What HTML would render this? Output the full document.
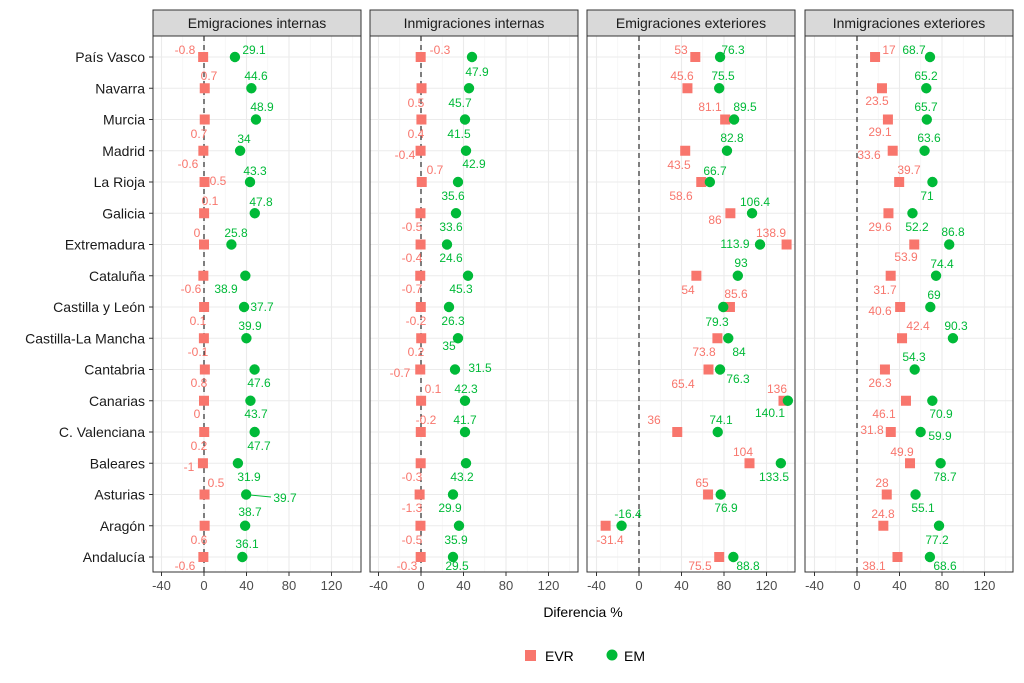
<!DOCTYPE html>
<html><head><meta charset="utf-8"><style>
html,body{margin:0;padding:0;background:#fff}
svg{display:block;font-family:"Liberation Sans",sans-serif}
</style></head><body>
<svg id="s" width="1024" height="683" xmlns="http://www.w3.org/2000/svg"></svg>
<script>
const S=document.getElementById('s');let h='';
const R='#F8766D',G='#00BA38',k=1.0625;
const rows=['País Vasco','Navarra','Murcia','Madrid','La Rioja','Galicia','Extremadura','Cataluña','Castilla y León','Castilla-La Mancha','Cantabria','Canarias','C. Valenciana','Baleares','Asturias','Aragón','Andalucía'];
const ry=i=>57+i*31.25;
const panels=[
{t:'Emigraciones internas',L:153,x0:204,
evr:[-0.8,0.7,0.7,-0.6,0.5,0.1,0,-0.6,0.1,-0.1,0.8,0,0.2,-1,0.5,0.6,-0.6],
em:[29.1,44.6,48.9,34,43.3,47.8,25.8,38.9,37.7,39.9,47.6,43.7,47.7,31.9,39.7,38.7,36.1],
lab:[['-0.8',185,50,R],['29.1',254,50,G],['0.7',209,76,R],['44.6',256,76,G],['0.7',199,134,R],['48.9',262,107,G],['-0.6',188,164,R],['34',244,139,G],['0.5',218,181,R],['43.3',255,171,G],['0.1',210,201,R],['47.8',261,202,G],['0',197,233,R],['25.8',236,233,G],['-0.6',191,289,R],['38.9',226,289,G],['0.1',198,321,R],['37.7',262,307,G],['-0.1',198,352,R],['39.9',250,326,G],['0.8',199,383,R],['47.6',259,383,G],['0',197,414,R],['43.7',256,414,G],['0.2',199,446,R],['47.7',259,446,G],['-1',189,467,R],['31.9',249,477,G],['0.5',216,483,R],['39.7',285,498,G],['0.6',199,540,R],['38.7',250,512,G],['-0.6',185,566,R],['36.1',247,544,G]]},
{t:'Inmigraciones internas',L:370,x0:421,
evr:[-0.3,0.5,0.4,-0.4,0.7,-0.5,-0.4,-0.7,-0.2,0.2,-0.7,0.1,-0.2,-0.3,-1.3,-0.5,-0.3],
emx:[472,469,465,466,458,456,447,468,449,458,455,465,465,466,453,459,453],
lab:[['-0.3',440,50,R],['47.9',477,72,G],['0.5',416,103,R],['45.7',460,103,G],['0.4',416,134,R],['41.5',459,134,G],['-0.4',405,155,R],['42.9',474,164,G],['0.7',435,170,R],['35.6',453,196,G],['-0.5',412,227,R],['33.6',451,227,G],['-0.4',412,258,R],['24.6',451,258,G],['-0.7',412,289,R],['45.3',461,289,G],['-0.2',416,321,R],['26.3',453,321,G],['0.2',416,352,R],['35',449,346,G],['-0.7',400,373,R],['31.5',480,368,G],['0.1',433,389,R],['42.3',466,389,G],['-0.2',426,420,R],['41.7',465,420,G],['-0.3',412,477,R],['43.2',462,477,G],['-1.3',412,508,R],['29.9',450,508,G],['-0.5',412,540,R],['35.9',456,540,G],['-0.3',407,566,R],['29.5',457,566,G]]},
{t:'Emigraciones exteriores',L:587,x0:639,
evr:[53,45.6,81.1,43.5,58.6,86,138.9,54,85.6,73.8,65.4,136,36,104,65,-31.4,75.5],
em:[76.3,75.5,89.5,82.8,66.7,106.4,113.9,93,79.3,84,76.3,140.1,74.1,133.5,76.9,-16.4,88.8],
lab:[['53',681,50,R],['76.3',733,50,G],['45.6',682,76,R],['75.5',723,76,G],['81.1',710,107,R],['89.5',745,107,G],['82.8',732,138,G],['43.5',679,165,R],['66.7',715,171,G],['58.6',681,196,R],['106.4',755,202,G],['86',715,220,R],['138.9',771,233,R],['113.9',735,244,G],['93',741,263,G],['54',688,290,R],['85.6',736,294,R],['79.3',717,322,G],['73.8',704,352,R],['84',739,352,G],['65.4',683,384,R],['76.3',738,379,G],['136',777,389,R],['140.1',770,413,G],['36',654,420,R],['74.1',721,420,G],['104',743,452,R],['133.5',774,477,G],['65',702,483,R],['76.9',726,508,G],['-16.4',628,514,G],['-31.4',610,540,R],['75.5',700,566,R],['88.8',748,566,G]]},
{t:'Inmigraciones exteriores',L:805,x0:857,
evr:[17,23.5,29.1,33.6,39.7,29.6,53.9,31.7,40.6,42.4,26.3,46.1,31.8,49.9,28,24.8,38.1],
em:[68.7,65.2,65.7,63.6,71,52.2,86.8,74.4,69,90.3,54.3,70.9,59.9,78.7,55.1,77.2,68.6],
lab:[['17',889,50,R],['68.7',914,50,G],['65.2',926,76,G],['23.5',877,101,R],['65.7',926,107,G],['29.1',880,132,R],['63.6',929,138,G],['33.6',869,155,R],['39.7',909,170,R],['71',927,196,G],['52.2',917,227,G],['29.6',880,227,R],['86.8',953,232,G],['53.9',906,257,R],['74.4',942,264,G],['31.7',885,290,R],['69',934,295,G],['40.6',880,311,R],['42.4',918,326,R],['90.3',956,326,G],['54.3',914,357,G],['26.3',880,383,R],['46.1',884,414,R],['70.9',941,414,G],['31.8',872,430,R],['59.9',940,436,G],['49.9',902,452,R],['78.7',945,477,G],['28',882,483,R],['55.1',923,508,G],['24.8',883,514,R],['77.2',937,540,G],['38.1',874,566,R],['68.6',945,566,G]]}];
const T=36,B=572,W=208;
panels.forEach(p=>{
 const L=p.L,X=v=>p.x0+v*k;
 h+=`<rect x="${L}" y="${T}" width="${W}" height="${B-T}" fill="#fff"/>`;
 [-20,20,60,100,140].forEach(v=>{const x=X(v);if(x>L&&x<L+W)h+=`<line x1="${x}" y1="${T}" x2="${x}" y2="${B}" stroke="#f2f2f2" stroke-width="0.6"/>`});
 [-40,0,40,80,120].forEach(v=>{const x=X(v);h+=`<line x1="${x}" y1="${T}" x2="${x}" y2="${B}" stroke="#ebebeb" stroke-width="1.1"/><line x1="${x}" y1="${B}" x2="${x}" y2="${B+4}" stroke="#333"/><text x="${x}" y="${B+18}" font-size="13" fill="#4d4d4d" text-anchor="middle">${v}</text>`});
 rows.forEach((r,i)=>{h+=`<line x1="${L}" y1="${ry(i)}" x2="${L+W}" y2="${ry(i)}" stroke="#ebebeb" stroke-width="1.1"/>`});
 h+=`<line x1="${X(0)}" y1="${T}" x2="${X(0)}" y2="${B}" stroke="#000" stroke-dasharray="5,4"/>`;
 rows.forEach((r,i)=>{const y=ry(i);
  const ex=p.emx?p.emx[i]:X(p.em[i]);
  h+=`<rect x="${X(p.evr[i])-5}" y="${y-5}" width="10" height="10" fill="${R}"/>`;
  h+=`<circle cx="${ex}" cy="${y}" r="5.2" fill="${G}"/>`;});
 p.lab.forEach(l=>{h+=`<text x="${l[1]}" y="${l[2]+4}" font-size="12" fill="${l[3]}" text-anchor="middle">${l[0]}</text>`});
 if(p.L==153)h+=`<line x1="250" y1="495" x2="271" y2="497" stroke="${G}"/>`;
 h+=`<rect x="${L}" y="${T}" width="${W}" height="${B-T}" fill="none" stroke="#333" stroke-width="1"/>`;
 h+=`<rect x="${L}" y="10" width="${W}" height="${T-10}" fill="#d9d9d9" stroke="#333" stroke-width="1"/><text x="${L+W/2}" y="28" font-size="14" fill="#1a1a1a" text-anchor="middle">${p.t}</text>`;
});
rows.forEach((r,i)=>{h+=`<line x1="149" y1="${ry(i)}" x2="153" y2="${ry(i)}" stroke="#333"/><text x="145" y="${ry(i)+5}" font-size="14" fill="#1a1a1a" text-anchor="end">${r}</text>`});
h+=`<text x="583" y="617" font-size="14" fill="#000" text-anchor="middle">Diferencia %</text>`;
h+=`<rect x="525" y="650" width="11" height="11" fill="${R}"/><text x="545" y="661" font-size="14" fill="#000">EVR</text>`;
h+=`<circle cx="612" cy="655" r="5.5" fill="${G}"/><text x="624" y="661" font-size="14" fill="#000">EM</text>`;
S.innerHTML=h;
</script>
</body></html>
